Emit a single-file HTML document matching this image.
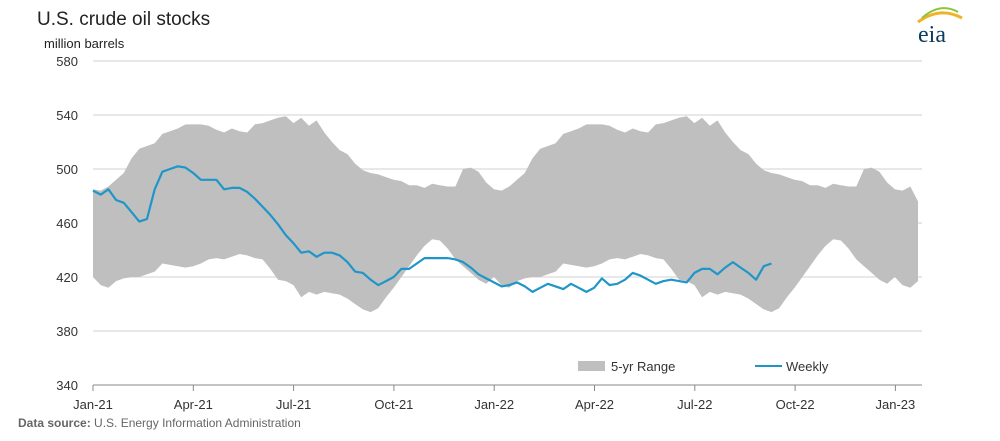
<!DOCTYPE html>
<html><head><meta charset="utf-8"><style>
body{margin:0;background:#fff;width:1000px;height:436px;overflow:hidden;font-family:"Liberation Sans",Arial,sans-serif;}
</style></head><body>
<svg width="1000" height="436" font-family="Liberation Sans, Arial, sans-serif">
<text x="37" y="25" font-size="19" fill="#222">U.S. crude oil stocks</text>
<text x="44" y="48" font-size="13" fill="#222">million barrels</text>
<g>
<path d="M918 22 Q940 6 962 18" stroke="#f0b323" stroke-width="3" fill="none"/>
<path d="M922 18 Q940 2 958 12" stroke="#8cc63f" stroke-width="2" fill="none"/>
<text x="918" y="42" font-size="24" fill="#0b3d5c" font-family="Liberation Serif, serif">eia</text>
</g>
<g id="grid"></g><g id="band"></g><g id="line"></g><g id="axes"></g>
<g>
<rect x="578" y="361" width="27" height="10" fill="#bfbfbf"/>
<text x="611" y="371" font-size="13" fill="#333">5-yr Range</text>
<line x1="755" y1="366" x2="782" y2="366" stroke="#1f96c8" stroke-width="2"/>
<text x="786" y="371" font-size="13" fill="#333">Weekly</text>
</g>
<text x="18" y="427" font-size="12" fill="#666"><tspan font-weight="bold">Data source:</tspan> U.S. Energy Information Administration</text>
</svg>
<script>
const yTicks=[340,380,420,460,500,540,580];
const xLabels=["Jan-21","Apr-21","Jul-21","Oct-21","Jan-22","Apr-22","Jul-22","Oct-22","Jan-23"];
const weekly=[484,481,485,477,475,468,461,463,485,498,500,502,501,497,492,492,492,485,486,486,483,478,472,466,459,451,445,438,439,435,438,438,436,431,424,423,418,414,417,420,426,426,430,434,434,434,434,433,431,427,422,419,416,413,414,416,413,409,412,415,413,411,415,412,409,412,419,414,415,418,423,421,418,415,417,418,417,416,423,426,426,422,427,431,427,423,418,428,430];
const rangeMax=[485,484,487,492,497,508,515,517,519,526,528,530,533,533,533,532,529,527,530,528,527,533,534,536,538,539,534,538,532,536,527,520,514,511,504,499,497,496,494,492,491,488,488,486,489,488,487,487,500,501,498,490,
485,484,487,492,497,508,515,517,519,526,528,530,533,533,533,532,529,527,530,528,527,533,534,536,538,539,534,538,532,536,527,520,514,511,504,499,497,496,494,492,491,488,488,486,489,488,487,487,500,501,498,490,
485,484,487,476];
const rangeMin=[420,414,412,417,419,420,420,422,424,430,429,428,427,428,430,433,434,433,435,437,436,434,433,426,418,417,414,405,409,407,409,408,407,404,400,396,394,397,405,412,420,428,436,443,448,447,441,433,428,423,418,415,
420,414,412,417,419,420,420,422,424,430,429,428,427,428,430,433,434,433,435,437,436,434,433,426,418,417,414,405,409,407,409,408,407,404,400,396,394,397,405,412,420,428,436,443,448,447,441,433,428,423,418,415,
420,414,412,417];
const NS="http://www.w3.org/2000/svg";
const X0=93,X1=922,WK=7.71,Q=100.3;
const xw=i=>X0+i*WK;
const y=v=>385-(v-340)*(324/240);
function mk(t,a,p){const e=document.createElementNS(NS,t);for(const k in a)e.setAttribute(k,a[k]);p.appendChild(e);return e;}
const grid=document.getElementById('grid'),axes=document.getElementById('axes');
yTicks.forEach(v=>{
  if(v>340){const l=mk('line',{x1:X0,x2:X1,y1:y(v),y2:y(v),stroke:'#d9d9d9','stroke-width':1.2},grid);
  
  }
  const t=mk('text',{x:78,y:y(v)+5,'text-anchor':'end','font-size':13,fill:'#333'},axes);
  t.textContent=v;
  
  
});
const ax=mk('line',{x1:X0,x2:X1,y1:385,y2:385,stroke:'#888','stroke-width':1},axes);


xLabels.forEach((s,i)=>{
  const x=X0+i*Q;
  mk('line',{x1:x,x2:x,y1:385,y2:391,stroke:'#888'},axes);
  const t=mk('text',{x:x,y:409,'text-anchor':'middle','font-size':13,fill:'#333'},axes);
  t.textContent=s;
  
  
});
let d='';
rangeMax.forEach((v,i)=>{d+=(i?'L':'M')+Math.min(xw(i),X1).toFixed(1)+' '+y(v).toFixed(1);});
for(let i=rangeMin.length-1;i>=0;i--)d+='L'+Math.min(xw(i),X1).toFixed(1)+' '+y(rangeMin[i]).toFixed(1);
const band=mk('path',{d:d+'Z',fill:'#bfbfbf'},document.getElementById('band'));


const pl=mk('polyline',{points:weekly.map((v,i)=>xw(i).toFixed(1)+','+y(v).toFixed(1)).join(' '),fill:'none',stroke:'#1f96c8','stroke-width':2.2,'stroke-linejoin':'round'},document.getElementById('line'));


</script>
</body></html>
